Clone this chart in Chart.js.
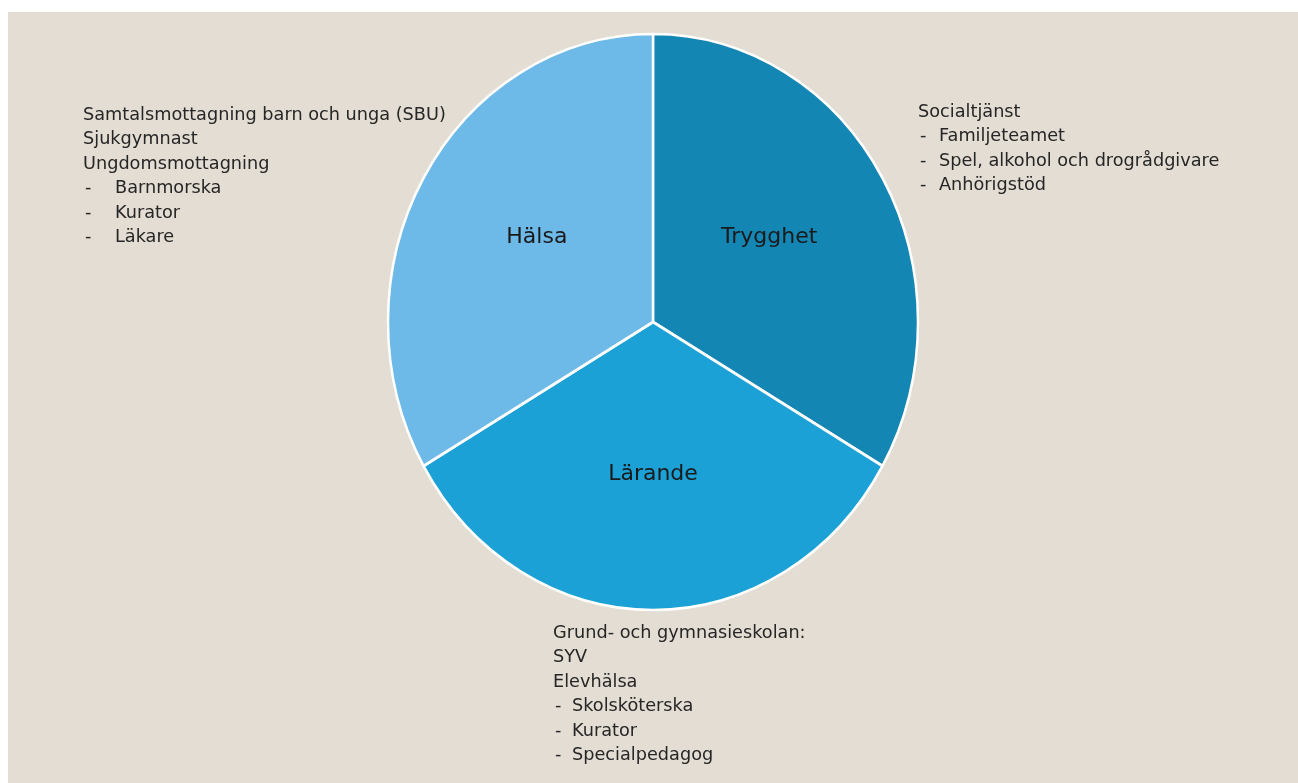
<!DOCTYPE html>
<html>
<head>
<meta charset="utf-8">
<script src="https://cdn.jsdelivr.net/npm/chart.js@4.4.1/dist/chart.umd.min.js"></script>
<style>
  html, body { margin: 0; padding: 0; background: #ffffff; }
  #bg { position: absolute; left: 8px; top: 12px; width: 1290px; height: 771px; background: #e3ddd3; }
  #wrap { position: absolute; left: 0; top: 0; width: 1298px; height: 783px; }
</style>
</head>
<body>
<div id="bg"></div>
<div id="wrap"><canvas id="pieChart"></canvas></div>
<script>
// slices, clockwise from 12 o'clock
var categories = ['Trygghet', 'Lärande', 'Hälsa'];
var shares = [1, 1, 1];
var sliceColors = ['#1486b4', '#1ba1d6', '#6db9e7'];

// text blocks next to the pie
var notesHalsa = ['Samtalsmottagning barn och unga (SBU)', 'Sjukgymnast', 'Ungdomsmottagning',
  '-\tBarnmorska', '-\tKurator', '-\tLäkare'];
var notesTrygghet = ['Socialtjänst', '-\tFamiljeteamet', '-\tSpel, alkohol och drogrådgivare', '-\tAnhörigstöd'];
var notesLarande = ['Grund- och gymnasieskolan:', 'SYV', 'Elevhälsa',
  '-\tSkolsköterska', '-\tKurator', '-\tSpecialpedagog'];

var yStretch = 288 / 265;
var textFont = '17.7px "DejaVu Sans"';
var textColor = '#262626';

function drawBlock(ctx, lines, x, y, tab) {
  ctx.font = textFont;
  ctx.fillStyle = textColor;
  ctx.textAlign = 'left';
  ctx.textBaseline = 'alphabetic';
  lines.forEach(function (line, i) {
    var ly = y + i * 24.4;
    var parts = line.split('\t');
    if (parts.length > 1) {
      ctx.fillText(parts[0], x + 2, ly);
      ctx.fillText(parts[1], x + tab, ly);
    } else {
      ctx.fillText(line, x, ly);
    }
  });
}

var ellipsePie = {
  id: 'ellipsePie',
  beforeDatasetsDraw: function (chart) {
    var arc = chart.getDatasetMeta(0).data[0];
    var ctx = chart.ctx;
    ctx.save();
    ctx.translate(arc.x, arc.y);
    ctx.scale(1, yStretch);
    ctx.translate(-arc.x, -arc.y);
  },
  afterDatasetsDraw: function (chart) {
    var ctx = chart.ctx;
    ctx.restore();
    ctx.save();
    ctx.font = '22px "DejaVu Sans"';
    ctx.fillStyle = '#1a1a1a';
    ctx.textAlign = 'center';
    ctx.textBaseline = 'middle';
    chart.getDatasetMeta(0).data.forEach(function (arc, i) {
      var mid = (arc.startAngle + arc.endAngle) / 2;
      var r = arc.outerRadius * 0.53;
      var dx = r * Math.cos(mid) * 0.955;
      var dy = r * Math.sin(mid) * yStretch;
      if (dy < 0) dy -= 8;
      ctx.fillText(categories[i], arc.x + dx, arc.y + dy);
    });
    ctx.restore();
  },
  afterDraw: function (chart) {
    var ctx = chart.ctx;
    ctx.save();
    drawBlock(ctx, notesHalsa, 83, 120, 32);
    drawBlock(ctx, notesTrygghet, 918, 117, 21);
    drawBlock(ctx, notesLarande, 553, 638, 19);
    ctx.restore();
  }
};

new Chart(document.getElementById('pieChart').getContext('2d'), {
  type: 'pie',
  data: {
    labels: categories,
    datasets: [{
      data: shares,
      backgroundColor: sliceColors,
      borderColor: '#ffffff',
      borderWidth: 2.5
    }]
  },
  options: {
    responsive: true,
    maintainAspectRatio: false,
    animation: false,
    radius: 265,
    layout: { padding: { left: 8, right: 0, top: 0, bottom: 139 } },
    plugins: {
      legend: { display: false },
      tooltip: { enabled: false }
    }
  },
  plugins: [ellipsePie]
});
</script>
</body>
</html>
